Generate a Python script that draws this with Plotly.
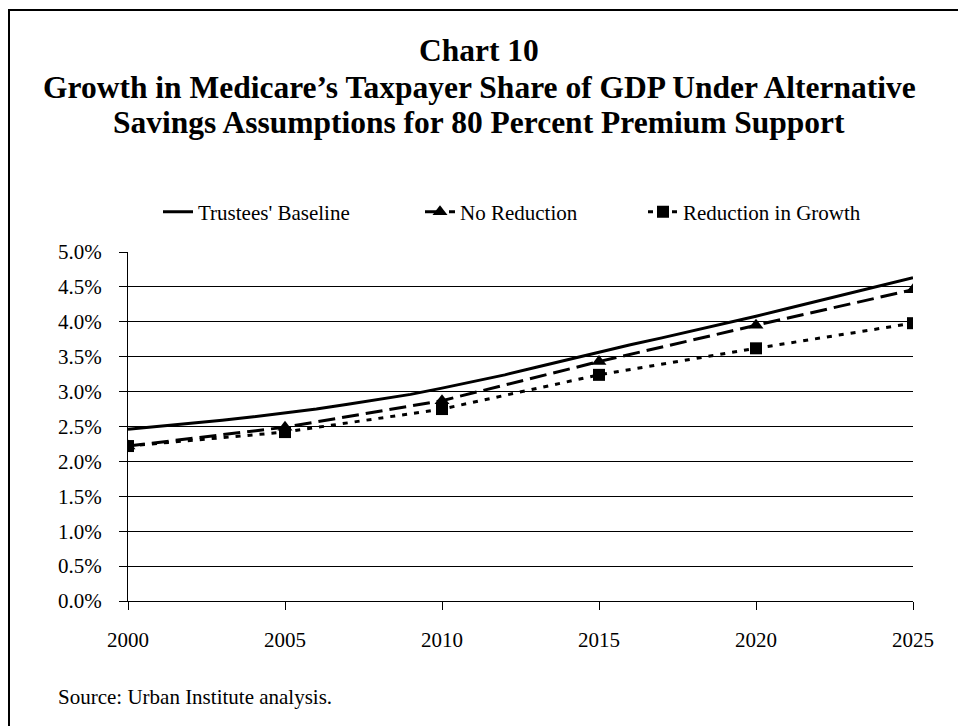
import plotly.graph_objects as go

# Medicare taxpayer share of GDP (%)
baseline_years = list(range(2000, 2026))
baseline_values = [2.46, 2.50, 2.54, 2.59, 2.64, 2.69, 2.75, 2.82, 2.89, 2.96,
                   3.05, 3.14, 3.24, 3.35, 3.46, 3.57, 3.67, 3.77, 3.87, 3.97,
                   4.08, 4.19, 4.30, 4.42, 4.52, 4.63]

marker_years = [2000, 2005, 2010, 2015, 2020, 2025]
no_reduction = [2.22, 2.49, 2.87, 3.43, 3.95, 4.46]
reduction_growth = [2.22, 2.42, 2.75, 3.24, 3.62, 3.98]

y_ticks = [0.0, 0.5, 1.0, 1.5, 2.0, 2.5, 3.0, 3.5, 4.0, 4.5, 5.0]
y_tick_labels = [f"{v:.1f}%" for v in y_ticks]
x_ticks = [2000, 2005, 2010, 2015, 2020, 2025]

title_lines = [
    "Chart 10",
    "Growth in Medicare\u2019s Taxpayer Share of GDP Under Alternative",
    "Savings Assumptions for 80 Percent Premium Support",
]
source_text = "Source: Urban Institute analysis."

FONT = "Liberation Serif, Times New Roman, serif"

# plot area in pixels
W, H = 958, 726
L, R, T, B = 128, 913, 252, 601


def px_x(px):
    return (px - L) / (R - L)


def px_y(py):
    return (B - py) / (B - T)


fig = go.Figure()

fig.add_trace(go.Scatter(
    x=baseline_years, y=baseline_values, mode="lines",
    name="Trustees' Baseline", legend="legend",
    line=dict(color="black", width=3),
))
fig.add_trace(go.Scatter(
    x=marker_years, y=no_reduction, mode="lines+markers",
    name="No Reduction", legend="legend2",
    line=dict(color="black", width=3, dash="17px,7px"),
    marker=dict(symbol="triangle-up", size=13, color="black"),
))
fig.add_trace(go.Scatter(
    x=marker_years, y=reduction_growth, mode="lines+markers",
    name="Reduction in Growth", legend="legend3",
    line=dict(color="black", width=3, dash="5px,7px"),
    marker=dict(symbol="square", size=12, color="black"),
))

annotations = []
title_baselines = [63, 100, 135]
for text, base in zip(title_lines, title_baselines):
    annotations.append(dict(
        text=f"<b>{text}</b>", xref="paper", yref="paper",
        x=px_x(479), y=px_y(base + 7), xanchor="center", yanchor="bottom",
        showarrow=False, font=dict(family=FONT, size=31.5, color="black"),
    ))
annotations.append(dict(
    text=source_text, xref="paper", yref="paper",
    x=px_x(56), y=px_y(697), xanchor="left", yanchor="middle",
    showarrow=False, font=dict(family=FONT, size=21, color="black"),
))


def legend_at(px):
    return dict(
        orientation="h", x=px_x(px), y=px_y(212),
        xanchor="left", yanchor="middle",
        font=dict(family=FONT, size=21, color="black"),
        bgcolor="rgba(0,0,0,0)", itemwidth=30,
    )


fig.update_layout(
    width=W, height=H,
    margin=dict(l=L, r=W - R, t=T, b=H - B),
    paper_bgcolor="white", plot_bgcolor="white",
    font=dict(family=FONT, color="black"),
    showlegend=True,
    legend=legend_at(158),
    legend2=legend_at(420),
    legend3=legend_at(643),
    annotations=annotations,
    shapes=[dict(
        type="rect", xref="paper", yref="paper",
        x0=px_x(9), x1=px_x(990), y0=px_y(760), y1=px_y(10),
        line=dict(color="black", width=2), fillcolor="rgba(0,0,0,0)",
        layer="below",
    )],
    xaxis=dict(
        range=[2000, 2025], tickmode="array", tickvals=x_ticks,
        ticktext=[str(v) for v in x_ticks],
        showgrid=False, zeroline=False,
        showline=True, linecolor="black", linewidth=1,
        ticks="outside", ticklen=8, tickcolor="black", tickwidth=1,
        tickfont=dict(family=FONT, size=21, color="black"),
        ticklabelstandoff=12,
    ),
    yaxis=dict(
        range=[0, 5], tickmode="array", tickvals=y_ticks,
        ticktext=y_tick_labels,
        showgrid=True, gridcolor="black", gridwidth=1,
        zeroline=False,
        showline=True, linecolor="black", linewidth=1,
        ticks="outside", ticklen=8, tickcolor="black", tickwidth=1,
        tickfont=dict(family=FONT, size=21, color="black"),
        ticklabelstandoff=13,
    ),
)

fig.write_html("out.html")
